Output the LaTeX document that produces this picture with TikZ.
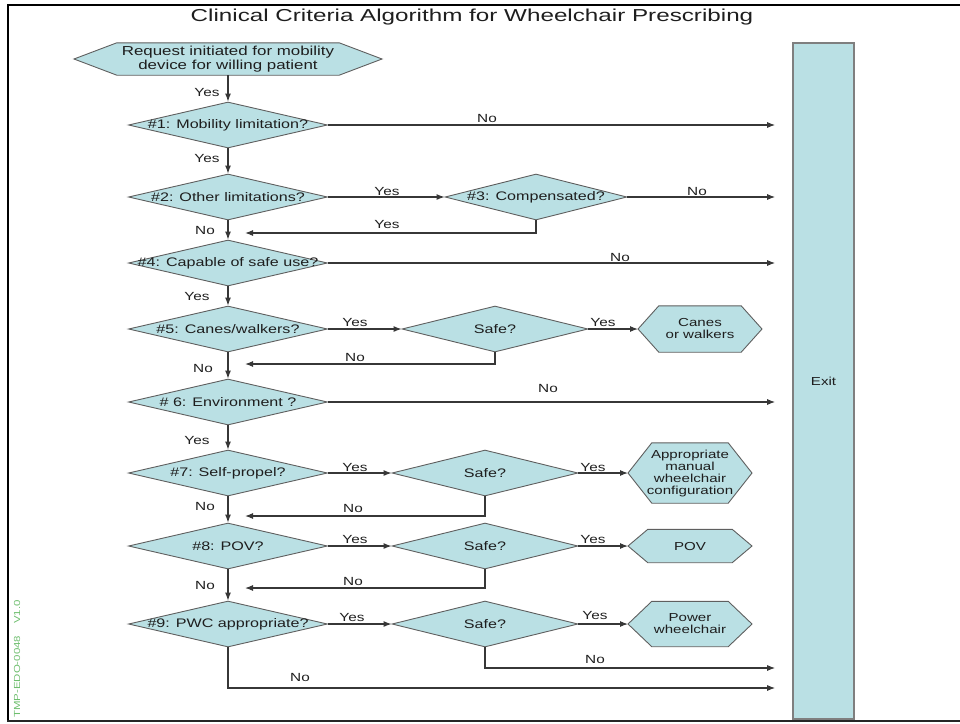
\documentclass[tikz,border=0pt]{standalone}
\usepackage{fontspec}
\setmainfont[FakeStretch=1.3]{Liberation Sans}
\newfontfamily\titlefont[FakeStretch=1.4]{Liberation Sans}
\usetikzlibrary{shapes.geometric,arrows.meta,backgrounds,calc}
\definecolor{boxfill}{RGB}{186,224,228}
\definecolor{boxline}{RGB}{95,95,95}
\definecolor{conn}{RGB}{55,55,55}
\definecolor{tagc}{RGB}{110,190,110}
\definecolor{txt}{RGB}{30,30,30}
\tikzset{
  dia/.style={diamond, draw=boxline, fill=boxfill, line width=0.9pt, inner sep=0pt,
    minimum width=199, minimum height=46},
  dtext/.style={font=\fontsize{12.4}{13}\selectfont, text=txt, inner sep=0pt},
  hexbody/.style={rectangle, inner sep=0pt},
  hexline/.style={draw=boxline, fill=boxfill, line width=0.9pt},
  htext/.style={font=\fontsize{11.6}{12}\selectfont, text=txt, inner sep=0pt, align=center},
  arr/.style={draw=conn, line width=1.1pt, -{Latex[length=8pt,width=6pt]}},
  lin/.style={draw=conn, line width=1.1pt},
  lbl/.style={font=\fontsize{11.8}{12}\selectfont, text=txt, inner sep=0pt},
}
% #1 name, #2 x, #3 y, #4 full width, #5 height, #6 inset, #7 text style, #8 text
\newcommand\hexat[8]{%
  \node[hexbody, minimum width=#4-2*#6, minimum height=#5,
        label={[#7]center:{#8}}] (#1) at (#2,#3) {};
  \coordinate (#1-w) at (#2-#4/2,#3);
  \coordinate (#1-e) at (#2+#4/2,#3);
  \begin{scope}[on background layer]
    \path[hexline] (#1.north west) -- (#1.north east) -- (#1-e) -- (#1.south east)
      -- (#1.south west) -- (#1-w) -- cycle;
  \end{scope}}
\begin{document}
\begin{tikzpicture}[x=1pt,y=-1pt]
\useasboundingbox (0,0) rectangle (960,723);
% frame
\draw[line width=2.6pt, black] (7,5) -- (960,5);
\draw[line width=2pt, black] (8,4) -- (8,722);
\draw[line width=2pt, black!85] (7,721) -- (960,721);
% title
\node[font=\titlefont\fontsize{17.3}{18}\selectfont, text=txt, inner sep=0pt] (title) at (472,17) {Clinical Criteria Algorithm for Wheelchair Prescribing};
% side tag
\node[rotate=90, font=\fontsize{8.8}{9}\selectfont, text=tagc, inner sep=0pt] (tag) at (17,659) {TMP-EDO-0048\hspace{12pt}V1.0};

% start
\hexat{start}{228}{59}{308}{32}{43}{font=\fontsize{13}{14}\selectfont, text=txt, inner sep=0pt, align=center}{Request initiated for mobility\\device for willing patient}

% main diamonds
\node[dia, label={[dtext]center:{\#1: Mobility limitation?}}] (d1) at (228,125) {};
\node[dia, label={[dtext]center:{\#2: Other limitations?}}] (d2) at (228,197) {};
\node[dia, minimum width=182, label={[dtext]center:{\#3: Compensated?}}] (d3) at (536,197) {};
\node[dia, label={[dtext]center:{\#4: Capable of safe use?}}] (d4) at (228,263) {};
\node[dia, label={[dtext]center:{\#5: Canes/walkers?}}] (d5) at (228,329) {};
\node[dia, label={[dtext]center:{\# 6: Environment ?}}] (d6) at (228,402) {};
\node[dia, label={[dtext]center:{\#7: Self-propel?}}] (d7) at (228,473) {};
\node[dia, label={[dtext]center:{\#8: POV?}}] (d8) at (228,546) {};
\node[dia, label={[dtext]center:{\#9: PWC appropriate?}}] (d9) at (228,624) {};

% safe diamonds
\node[dia, minimum width=186, label={[dtext]center:{Safe?}}] (s1) at (495,329) {};
\node[dia, minimum width=186, label={[dtext]center:{Safe?}}] (s2) at (485,473) {};
\node[dia, minimum width=186, label={[dtext]center:{Safe?}}] (s3) at (485,546) {};
\node[dia, minimum width=186, label={[dtext]center:{Safe?}}] (s4) at (485,624) {};

% result hexagons
\hexat{canes}{700}{329}{124}{46}{21}{htext}{Canes\\or walkers}
\hexat{manual}{690}{473}{124}{60}{24}{htext}{Appropriate\\manual\\wheelchair\\configuration}
\hexat{pov}{690}{546}{124}{33}{20}{htext}{POV}
\hexat{power}{690}{624}{124}{45}{24}{htext}{Power\\wheelchair}

% exit
\node[rectangle, draw=boxline!80, fill=boxfill, line width=1.6pt, inner sep=0pt,
      minimum width=61, minimum height=676, font=\fontsize{11.6}{12}\selectfont, text=txt] (exit) at (823.5,381) {Exit};

% helper coordinates
\coordinate (r3) at (245,233);
\coordinate (r5) at (245,364);
\coordinate (r7) at (245,516);
\coordinate (r8) at (245,588);
\coordinate (b9) at (228,688);
\coordinate (bs4) at (485,668);

% vertical flow
\draw[arr] (start.south) -- (d1.north);
\draw[arr] (d1.south) -- (d2.north);
\draw[arr] (d2.south) -- (d4.north);
\draw[arr] (d4.south) -- (d5.north);
\draw[arr] (d5.south) -- (d6.north);
\draw[arr] (d6.south) -- (d7.north);
\draw[arr] (d7.south) -- (d8.north);
\draw[arr] (d8.south) -- (d9.north);

% to side decisions
\draw[arr] (d2.east) -- (d3.west);
\draw[arr] (d5.east) -- (s1.west);
\draw[arr] (d7.east) -- (s2.west);
\draw[arr] (d8.east) -- (s3.west);
\draw[arr] (d9.east) -- (s4.west);

% to results
\draw[arr] (s1.east) -- (canes-w);
\draw[arr] (s2.east) -- (manual-w);
\draw[arr] (s3.east) -- (pov-w);
\draw[arr] (s4.east) -- (power-w);

% returns
\draw[arr] (d3.south) |- (r3);
\draw[arr] (s1.south) |- (r5);
\draw[arr] (s2.south) |- (r7);
\draw[arr] (s3.south) |- (r8);

% to exit
\draw[arr] (d1.east) -- ($(d1.east -| exit.west)+(-17,0)$);
\draw[arr] (d3.east) -- ($(d3.east -| exit.west)+(-17,0)$);
\draw[arr] (d4.east) -- ($(d4.east -| exit.west)+(-17,0)$);
\draw[arr] (d6.east) -- ($(d6.east -| exit.west)+(-17,0)$);
\draw[arr] (s4.south) |- ($(bs4 -| exit.west)+(-17,0)$);
\draw[arr] (d9.south) |- ($(b9 -| exit.west)+(-17,0)$);

% labels on vertical flow
\node[lbl] (ly0) at (207,92) {Yes};
\node[lbl] (ly1) at (207,158) {Yes};
\node[lbl] (ln2) at (205,230) {No};
\node[lbl] (ly4) at (197,296) {Yes};
\node[lbl] (ln5) at (203,368) {No};
\node[lbl] (ly6) at (197,440) {Yes};
\node[lbl] (ln7) at (205,506) {No};
\node[lbl] (ln8) at (205,585) {No};

% labels on horizontal flow
\node[lbl] (ly2) at (387,191) {Yes};
\node[lbl] (lr3) at (387,224) {Yes};
\node[lbl] (ly5) at (355,322) {Yes};
\node[lbl] (lr5) at (355,357) {No};
\node[lbl] (ly7) at (355,467) {Yes};
\node[lbl] (lr7) at (353,508) {No};
\node[lbl] (ly8) at (355,539) {Yes};
\node[lbl] (lr8) at (353,581) {No};
\node[lbl] (ly9) at (352,617) {Yes};
\node[lbl] (lys1) at (603,322) {Yes};
\node[lbl] (lys2) at (593,467) {Yes};
\node[lbl] (lys3) at (593,539) {Yes};
\node[lbl] (lys4) at (595,615) {Yes};

% exit labels
\node[lbl] (ln1) at (487,118) {No};
\node[lbl] (ln3) at (697,191) {No};
\node[lbl] (ln4) at (620,257) {No};
\node[lbl] (ln6) at (548,388) {No};
\node[lbl] (lns4) at (595,659) {No};
\node[lbl] (ln9) at (300,677) {No};
\end{tikzpicture}
\end{document}
